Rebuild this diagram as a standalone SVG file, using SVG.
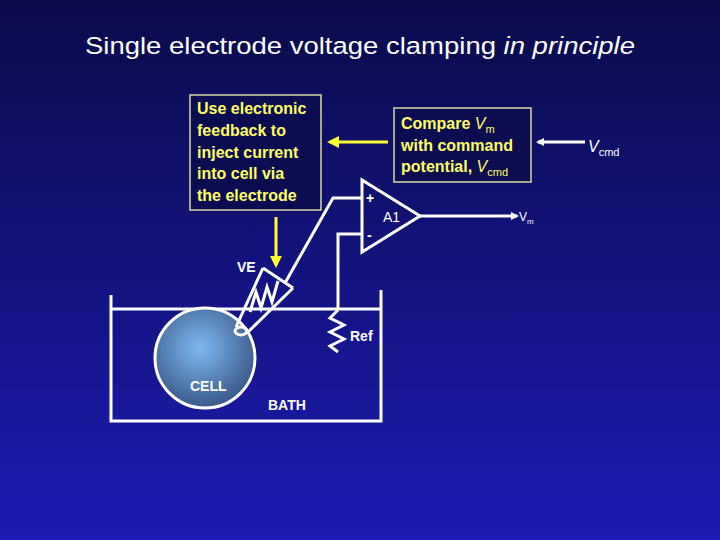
<svg xmlns="http://www.w3.org/2000/svg" width="720" height="540" viewBox="0 0 720 540">
<defs>
<linearGradient id="bg" x1="0" y1="0" x2="0" y2="1"><stop offset="0" stop-color="#0a0a4a"/><stop offset="1" stop-color="#1c1cb4"/></linearGradient>
<radialGradient id="cg" cx="0.45" cy="0.4" r="0.6"><stop offset="0" stop-color="#80b8f0"/><stop offset="1" stop-color="#3a5a8a"/></radialGradient>
<marker id="wa" markerWidth="8" markerHeight="8" refX="6" refY="4" orient="auto" markerUnits="userSpaceOnUse"><path d="M0,0 L8,4 L0,8 Z" fill="#fff"/></marker>
<marker id="ya" markerWidth="12" markerHeight="12" refX="9" refY="6" orient="auto" markerUnits="userSpaceOnUse"><path d="M0,0 L12,6 L0,12 Z" fill="#ffff33"/></marker>
<style>
.w{stroke:#fff;stroke-width:3;fill:none}
.y{stroke:#ffff33;stroke-width:3;fill:none}
.t{font-family:"Liberation Sans",Arial,sans-serif;fill:#fff}
.yt{font-family:"Liberation Sans",Arial,sans-serif;fill:#ffff66;font-size:16px;font-weight:bold}
.box{fill:#0c0c50;stroke:#d8d8a0;stroke-width:1.5}
</style>
</defs>
<rect width="720" height="540" fill="url(#bg)"/>
<text class="t" x="360" y="54" font-size="24" text-anchor="middle" fill="#f0f0f0" style="font-size:23.5px" transform="translate(360 0) scale(1.17 1) translate(-360 0)">Single electrode voltage clamping <tspan font-style="italic">in principle</tspan></text>
<g id="bath"><path class="w" d="M111,295 V421 H381 V290"/><path class="w" d="M111,309 H381"/><text class="t" x="268" y="410" font-size="14" font-weight="bold">BATH</text></g>
<g id="cell"><circle cx="205" cy="358" r="50" fill="url(#cg)" stroke="#fff" stroke-width="3"/><text class="t" x="190" y="391" font-size="14" font-weight="bold">CELL</text></g>
<g id="electrode"><path class="w" d="M263,268 L236,327 M293,288 L247,333 M263,268 L293,288"/><ellipse cx="241" cy="331" rx="6" ry="4" class="w" stroke-width="2.5"/><path class="w" stroke-width="2.5" d="M250,312 L256,292 L261,308 L267,287 L272,302 L278,281"/><text class="t" x="237" y="272" font-size="14" font-weight="bold">VE</text></g>
<g id="ref"><path class="w" d="M338,310 L330,318 L344,325 L330,332 L344,339 L330,346 L338,352"/><text class="t" x="350" y="341" font-size="14" font-weight="bold">Ref</text></g>
<g id="amp"><path class="w" d="M362,180 L362,252 L420,216 Z"/><text class="t" x="366" y="203" font-size="14" font-weight="bold">+</text><text class="t" x="367" y="240" font-size="14" font-weight="bold">-</text><text class="t" x="383" y="222" font-size="14">A1</text></g>
<g id="box1"><rect class="box" x="190" y="95" width="131" height="115"/><text class="yt" x="197" y="114">Use electronic</text><text class="yt" x="197" y="136">feedback to</text><text class="yt" x="197" y="158">inject current</text><text class="yt" x="197" y="179">into cell via</text><text class="yt" x="197" y="201">the electrode</text></g>
<g id="box2"><rect class="box" x="394" y="108" width="137" height="74"/><text class="yt" x="401" y="129">Compare <tspan font-style="italic" font-weight="normal">V</tspan><tspan font-size="11" font-weight="normal" dy="4">m</tspan></text><text class="yt" x="401" y="151">with command</text><text class="yt" x="401" y="172">potential, <tspan font-style="italic" font-weight="normal">V</tspan><tspan font-size="11" font-weight="normal" dy="4">cmd</tspan></text></g>
<g id="labels"><text class="t" x="588" y="152" font-size="16" font-style="italic">V<tspan font-style="normal" font-size="11" dy="4">cmd</tspan></text><text class="t" x="519" y="221" font-size="12">V<tspan font-size="8" dy="3">m</tspan></text></g>
<g id="connectors">
<path class="w" d="M285,283 L333,198 H362"/>
<path class="w" d="M362,234 H338 V310"/>
<path class="w" d="M420,216 H517" marker-end="url(#wa)"/>
<path class="w" d="M585,142 H538" marker-end="url(#wa)"/>
<path class="y" d="M388,142 H330" marker-end="url(#ya)"/>
<path class="y" d="M276,217 V265" marker-end="url(#ya)"/>
</g>
</svg>
